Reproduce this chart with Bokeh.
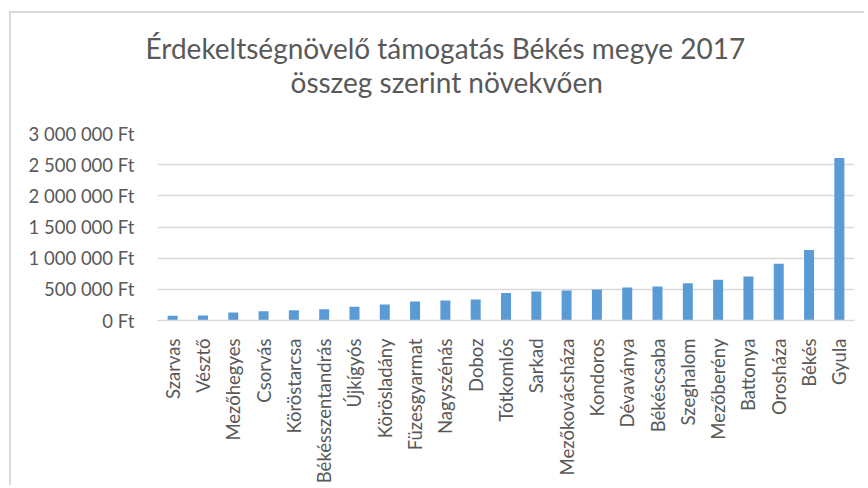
from bokeh.plotting import figure
from bokeh.models import Range1d, FixedTicker, Title, ColumnDataSource
from bokeh.embed import file_html
from bokeh.resources import INLINE
import math

cities = ["Szarvas", "Vésztő", "Mezőhegyes", "Csorvás", "Köröstarcsa",
          "Békésszentandrás", "Újkígyós", "Körösladány", "Füzesgyarmat",
          "Nagyszénás", "Doboz", "Tótkomlós", "Sarkad", "Mezőkovácsháza",
          "Kondoros", "Dévaványa", "Békéscsaba", "Szeghalom", "Mezőberény",
          "Battonya", "Orosháza", "Békés", "Gyula"]
amounts = [78000, 80000, 128000, 150000, 165000, 181000, 219000, 256000,
           304000, 320000, 336000, 443000, 465000, 481000, 497000, 529000,
           545000, 598000, 652000, 705000, 909000, 1133000, 2607000]
y_ticks = [0, 500000, 1000000, 1500000, 2000000, 2500000, 3000000]
y_tick_labels = ["0 Ft", "500 000 Ft", "1 000 000 Ft", "1 500 000 Ft",
                 "2 000 000 Ft", "2 500 000 Ft", "3 000 000 Ft"]
title_lines = ["Érdekeltségnövelő támogatás Békés megye 2017",
               "összeg szerint növekvően"]

FONT = "Lato"
GREY = "#595959"

src = ColumnDataSource(data=dict(city=cities, amount=amounts))

p = figure(x_range=cities, y_range=Range1d(0, 3000000), title=None,
           width=855, height=474, output_backend="svg", toolbar_location=None,
           min_border_left=146, min_border_right=12, min_border_top=120,
           min_border_bottom=167,
           styles={"margin-left": "9px", "margin-top": "11px",
                   "border-left": "2px solid #d9d9d9",
                   "border-top": "2px solid #d9d9d9"})

p.vbar(x="city", top="amount", width=0.33, bottom=0, source=src,
       fill_color="#5b9bd5", line_color=None)

p.outline_line_color = None
p.xgrid.grid_line_color = None
p.ygrid.grid_line_color = "#d9d9d9"
p.ygrid.grid_line_width = 1.3

p.yaxis.ticker = FixedTicker(ticks=y_ticks)
p.yaxis.major_label_overrides = {t: l for t, l in zip(y_ticks, y_tick_labels)}
p.yaxis.axis_line_color = None
p.yaxis.major_tick_line_color = None
p.yaxis.minor_tick_line_color = None
p.yaxis.major_label_standoff = 17
p.yaxis.major_label_text_font = FONT
p.yaxis.major_label_text_font_size = "18.5px"
p.yaxis.major_label_text_color = GREY

p.xaxis.axis_line_color = "#d9d9d9"
p.xaxis.axis_line_width = 1.3
p.xaxis.major_tick_line_color = None
p.xaxis.minor_tick_line_color = None
p.xaxis.major_label_orientation = math.pi / 2
p.xaxis.major_label_standoff = 12
p.xaxis.major_label_text_font = FONT
p.xaxis.major_label_text_font_size = "18.5px"
p.xaxis.major_label_text_color = GREY

# spacer between frame and title, then line 2, then line 1 on top
p.add_layout(Title(text=" ", text_font=FONT, text_font_size="28px",
                   standoff=-1), "above")
offsets = [-12, 133]
standoffs = [-4, 0]
for txt, off, so in reversed(list(zip(title_lines, offsets, standoffs))):
    p.add_layout(Title(text=txt, align="left", offset=off, standoff=so,
                       text_font=FONT, text_font_size="28px",
                       text_font_style="normal", text_color=GREY), "above")

open("out.html", "w").write(file_html(p, INLINE))
